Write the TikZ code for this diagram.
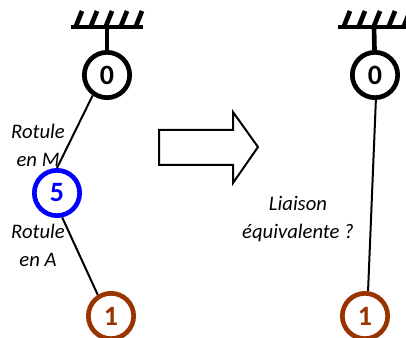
\documentclass[tikz,border=0pt]{standalone}
\usepackage{fontspec}
\setmainfont{Carlito}
\usetikzlibrary{positioning}
\definecolor{rouille}{RGB}{153,51,0}
\tikzset{every picture/.style={line width=0.5pt}}
\tikzstyle{classe}=[circle,draw,fill=white,line width=3.5pt,minimum size=34pt,inner sep=0pt,font=\fontsize{21}{21}\selectfont\bfseries]
\tikzstyle{legende}=[align=center,font=\fontsize{15.5}{21}\selectfont\itshape]
\tikzstyle{bati}=[line width=3.5pt]
\tikzstyle{liaison}=[line width=1.5pt]
\begin{document}
\begin{tikzpicture}[x=0.75pt,y=-0.75pt]
\useasboundingbox (0,0) rectangle (406,338);
\node[classe] (A) at (107,75) {0};
\node[classe,draw=blue,text=blue] (B) at (57,193) {5};
\node[classe,draw=rouille,text=rouille] (C) at (111,316) {1};
\node[classe] (A') at (375,75) {0};
\node[classe,draw=rouille,text=rouille] (C') at (365,316) {1};
\node[legende] (M) at (38,145) {Rotule\\en M};
\node[legende] (N) at (38,245.5) {Rotule\\en A};
\node[legende] (L) at (298,219) {Liaison\\équivalente ?};
%bati de gauche
\coordinate (G) at (107,27);
\coordinate (G1) at (71,27);
\coordinate (G2) at (143,27);
\draw[bati] (G1) -- (G2);
\draw[bati] (G) -- (A);
%bati de droite
\coordinate (D) at (374,27);
\coordinate (D1) at (338,27);
\coordinate (D2) at (410,27);
\draw[bati] (D1) -- (D2);
\draw[bati] (D) -- (A');
%hachures
\foreach \x in {76,91,106,121,136}
{
\draw[bati] (\x,26) -- (\x+6,11);
\draw[bati] (\x+268,26) -- (\x+274,11);
}
\path[liaison]
(A.235) edge (B.90)
(B.282) edge (C.122)
(A'.272) edge (C'.83);
%grande fleche
\node[inner sep=0pt] (F) at (258,147) {};
\draw[line width=1.5pt,line join=miter] (159,130) -- (233,130) -- (233,112) -- (F.center) -- (233,183) -- (233,165) -- (159,165) -- cycle;
\end{tikzpicture}
\end{document}
